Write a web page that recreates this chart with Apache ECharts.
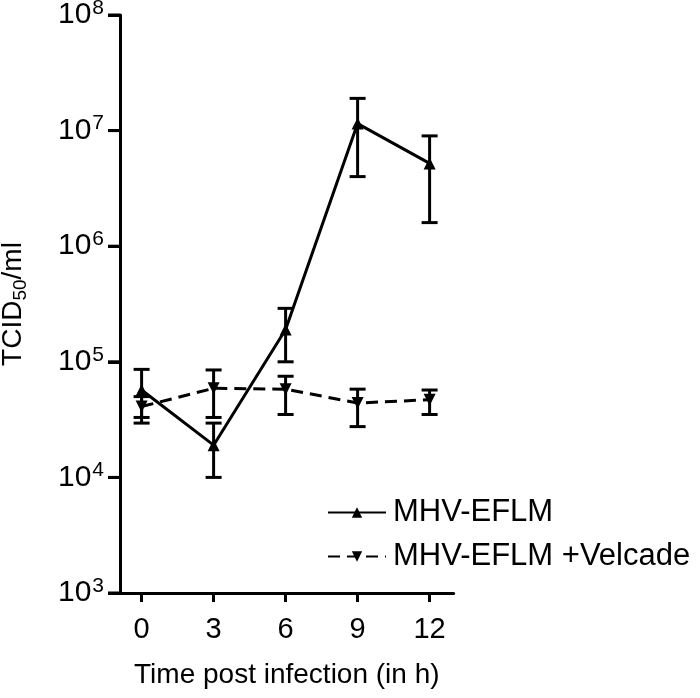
<!DOCTYPE html>
<html>
<head>
<meta charset="utf-8">
<script src="https://cdn.jsdelivr.net/npm/echarts@6/dist/echarts.min.js"></script>
<style>html,body{margin:0;padding:0;background:#fff}#c{width:700px;height:698px}</style>
</head>
<body>
<div id="c"></div>
<script>
const times = [0, 3, 6, 9, 12];
const eflmMean = [5.7e4, 1.9e4, 1.9e5, 1.15e7, 5.2e6];
const eflmLow  = [3.3e4, 1.0e4, 1.0e5, 4.0e6, 1.6e6];
const eflmHigh = [8.6e4, 2.95e4, 2.9e5, 1.9e7, 9.0e6];
const velMean = [4.1e4, 5.9e4, 5.8e4, 4.4e4, 4.7e4];
const velLow  = [2.95e4, 3.3e4, 3.5e4, 2.75e4, 3.5e4];
const velHigh = [5.0e4, 8.5e4, 7.5e4, 5.8e4, 5.7e4];
const xTicks = [0, 3, 6, 9, 12];
const yTicks = [1e3, 1e4, 1e5, 1e6, 1e7, 1e8];
const xMin = -0.9, xMax = 13;
const seriesNames = ['MHV-EFLM', 'MHV-EFLM +Velcade'];

const FONT = 'Liberation Sans, Arial, Helvetica, sans-serif';
const chart = echarts.init(document.getElementById('c'));

function pairs(xs, ys) { return xs.map((x, i) => [x, ys[i]]); }
function errData(xs, lo, hi) { return xs.map((x, i) => [x, lo[i], hi[i]]); }

function errRender(params, api) {
  const x = api.value(0);
  const lo = api.coord([x, api.value(1)]);
  const hi = api.coord([x, api.value(2)]);
  const hw = 8;
  const style = { stroke: '#000', lineWidth: 3, fill: null };
  return {
    type: 'group',
    children: [
      { type: 'line', shape: { x1: lo[0], y1: lo[1], x2: hi[0], y2: hi[1] }, style: style },
      { type: 'line', shape: { x1: lo[0] - hw, y1: lo[1], x2: lo[0] + hw, y2: lo[1] }, style: style },
      { type: 'line', shape: { x1: hi[0] - hw, y1: hi[1], x2: hi[0] + hw, y2: hi[1] }, style: style }
    ]
  };
}

const option = {
  backgroundColor: '#fff',
  animation: false,
  textStyle: { fontFamily: FONT },
  grid: { left: 120, top: 15, width: 333.6, height: 578, containLabel: false, outerBoundsMode: 'none' },
  legend: {
    data: seriesNames,
    orient: 'vertical',
    left: 322,
    top: 492,
    itemWidth: 58,
    itemHeight: 13,
    itemGap: 13,
    textStyle: { fontSize: 31, color: '#000', fontFamily: FONT, padding: [0, 0, 0, 2] }
  },
  xAxis: {
    type: 'value',
    position: 'bottom',
    min: xMin,
    max: xMax,
    interval: 3,
    name: 'Time post infection (in h)',
    nameLocation: 'middle',
    nameGap: 68,
    nameMoveOverlap: false,
    nameTextStyle: { fontSize: 28, color: '#000', fontFamily: FONT },
    axisLine: { onZero: false, lineStyle: { color: '#000', width: 3 } },
    axisTick: { show: true, inside: false, length: 9, lineStyle: { color: '#000', width: 3 },
      customValues: xTicks },
    axisLabel: { fontSize: 29, color: '#000', margin: 22, fontFamily: FONT,
      customValues: xTicks },
    splitLine: { show: false }
  },
  yAxis: {
    type: 'log',
    position: 'left',
    logBase: 10,
    min: 1e3,
    max: 1e8,
    name: 'TCID{sub|50}/ml',
    nameLocation: 'middle',
    nameGap: 90,
    nameRotate: 90,
    nameMoveOverlap: false,
    nameTextStyle: {
      fontSize: 28, color: '#000', fontFamily: FONT,
      rich: { sub: { fontSize: 19, color: '#000', fontFamily: FONT, padding: [14, 0, 0, 0] } }
    },
    axisLine: { show: true, onZero: false, lineStyle: { color: '#000', width: 3 } },
    axisTick: { show: true, inside: false, length: 12, lineStyle: { color: '#000', width: 3 } },
    axisLabel: {
      margin: 16,
      color: '#000',
      fontFamily: FONT,
      fontSize: 30,
      formatter: function (v) {
        const e = Math.round(Math.log10(v));
        return '10{sup|' + e + '}';
      },
      rich: {
        sup: { fontSize: 21, color: '#000', fontFamily: FONT, padding: [0, 0, 14, 1] }
      }
    },
    splitLine: { show: false }
  },
  series: [
    {
      // y-axis tick marks: short bars placed at each decade through the axis scale
      type: 'scatter',
      name: 'yTickMarks',
      data: yTicks.map(v => [xMin, v]),
      symbol: 'rect',
      symbolSize: [12, 3],
      symbolOffset: [-6, 0],
      itemStyle: { color: '#000', opacity: 1 },
      clip: false,
      silent: true,
      z: 10
    },
    {
      type: 'custom',
      name: 'errEFLM',
      renderItem: errRender,
      data: errData(times, eflmLow, eflmHigh),
      encode: { x: 0, y: [1, 2] },
      z: 1,
      silent: true
    },
    {
      type: 'custom',
      name: 'errVel',
      renderItem: errRender,
      data: errData(times, velLow, velHigh),
      encode: { x: 0, y: [1, 2] },
      z: 1,
      silent: true
    },
    {
      type: 'line',
      name: seriesNames[0],
      data: pairs(times, eflmMean),
      symbol: 'triangle',
      symbolSize: 12,
      itemStyle: { color: '#000' },
      lineStyle: { color: '#000', width: 3, type: 'solid' },
      z: 3
    },
    {
      type: 'line',
      name: seriesNames[1],
      data: pairs(times, velMean),
      symbol: 'triangle',
      symbolRotate: 180,
      symbolSize: 12,
      itemStyle: { color: '#000' },
      lineStyle: { color: '#000', width: 3, type: [12, 7] },
      z: 3
    }
  ]
};
chart.setOption(option);
</script>
</body>
</html>
